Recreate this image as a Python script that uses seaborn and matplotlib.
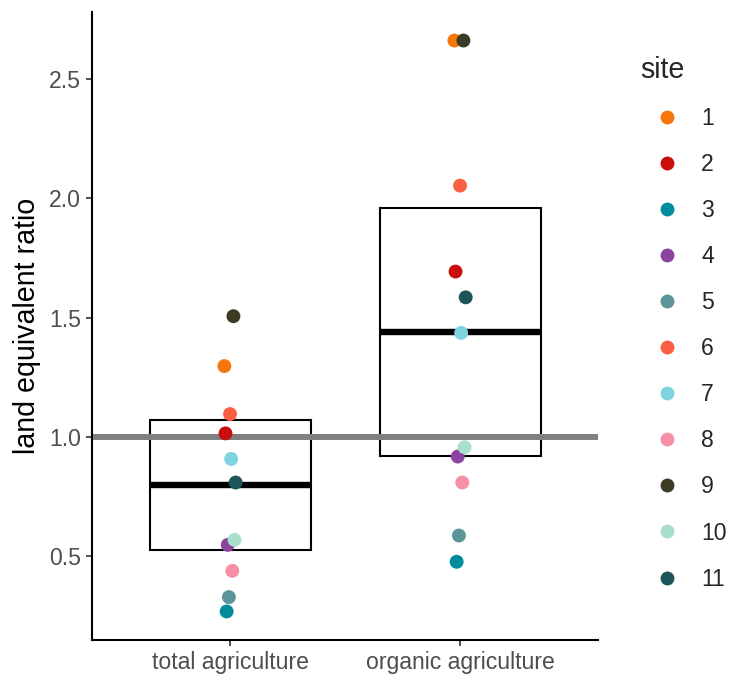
import numpy as np
import pandas as pd
import matplotlib
matplotlib.use("Agg")
import matplotlib.pyplot as plt
from matplotlib.patches import Rectangle
import seaborn as sns

systems = ["total agriculture", "organic agriculture"]
sites = [str(i) for i in range(1, 12)]
total_ler = [1.297, 1.015, 0.269, 0.548, 0.329, 1.096, 0.908, 0.439, 1.506, 0.569, 0.809]
organic_ler = [2.661, 1.693, 0.477, 0.918, 0.587, 2.053, 1.436, 0.809, 2.661, 0.957, 1.585]
site_colors = ["#F7760B", "#C80F0D", "#008C9C", "#8B45A1", "#5C9499", "#FA5F45",
               "#7FD3E1", "#F790A6", "#3C3B26", "#AADFCD", "#1D5658"]
y_ticks = [0.5, 1.0, 1.5, 2.0, 2.5]

df = pd.DataFrame({
    "system": np.repeat(systems, len(sites)),
    "site": sites * 2,
    "ler": total_ler + organic_ler,
})
df["system"] = pd.Categorical(df["system"], categories=systems)
df["site"] = pd.Categorical(df["site"], categories=sites)

# points dodged by site (like position_dodge(width = 0.054))
dodge = 0.054
n = len(sites)
df["xpos"] = df["system"].cat.codes + (df["site"].cat.codes - (n - 1) / 2) * dodge / n

# crossbar = mean with 95% t confidence interval
summ = df.groupby("system", observed=True)["ler"].agg(["mean", "std", "count"])
t975 = 2.228  # t quantile, df = 10
summ["half"] = t975 * summ["std"] / np.sqrt(summ["count"])

sns.set_style("ticks")
plt.rcParams["font.family"] = ["Liberation Sans", "DejaVu Sans"]

fig = plt.figure(figsize=(7.32, 6.77), dpi=100)
ax = fig.add_axes([0.1257, 0.0547, 0.817 - 0.1257, 0.9823 - 0.0547])

for i, (name, row) in enumerate(summ.iterrows()):
    ax.add_patch(Rectangle((i - 0.35, row["mean"] - row["half"]), 0.7, 2 * row["half"],
                           fill=False, ec="black", lw=1.5, zorder=1))
    ax.hlines(row["mean"], i - 0.35, i + 0.35, color="black", lw=4.6, zorder=1)

ax.axhline(1, color="#808080", lw=4.3, zorder=2)

sns.scatterplot(data=df, x="xpos", y="ler", hue="site", palette=site_colors,
                s=100, linewidth=0, ax=ax, zorder=3)

lo, hi = df["ler"].min(), df["ler"].max()
pad = 0.05 * (hi - lo)
ax.set_ylim(lo - pad, hi + pad)
ax.set_xlim(-0.6, 1.6)
ax.set_xticks(range(len(systems)))
ax.set_xticklabels(systems)
ax.set_yticks(y_ticks)
ax.set_yticklabels([f"{v:.1f}" for v in y_ticks])
ax.set_xlabel("")
ax.set_ylabel("land equivalent ratio", fontsize=20.6, color="black", labelpad=6)
ax.tick_params(axis="both", labelsize=16.6, labelcolor="#4D4D4D", color="#333333",
               length=4, width=1.2)
ax.tick_params(axis="x", pad=4)
ax.tick_params(axis="y", pad=4)
for side in ["left", "bottom"]:
    ax.spines[side].set_linewidth(1.5)
    ax.spines[side].set_color("black")
sns.despine(ax=ax)

handles, labels = ax.get_legend_handles_labels()
ax.get_legend().remove()
for h in handles:
    h.set_markersize(10)
leg = fig.legend(handles, labels, title="site", loc="upper left",
                 bbox_to_anchor=(640 / 732, 1 - 56 / 677), frameon=False,
                 borderaxespad=0, borderpad=0,
                 fontsize=16.6, title_fontsize=20.6, labelspacing=1.0,
                 handletextpad=0.3, handlelength=2.35)
leg._legend_box.align = "left"

fig.savefig("out.png", dpi=100)
